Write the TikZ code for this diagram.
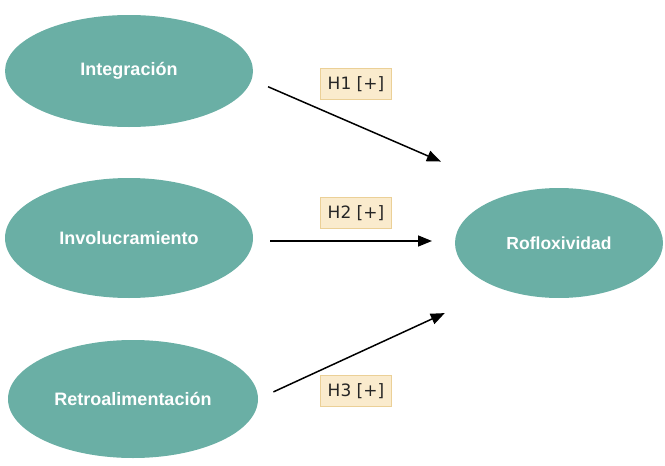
\documentclass[tikz,border=0pt]{standalone}
\usepackage{fontspec}
\setmainfont{Liberation Sans}
\newfontfamily\labfont{DejaVu Sans}
\usetikzlibrary{arrows.meta,shapes.geometric}
\definecolor{tealfill}{HTML}{6AAFA5}
\definecolor{boxfill}{HTML}{FAEBCD}
\definecolor{boxline}{HTML}{EBD097}
\tikzset{
  construct/.style={ellipse, fill=tealfill, draw=none, inner sep=0pt, outer sep=0pt,
    text=white, font=\fontsize{18}{21}\selectfont\bfseries},
  hyplabel/.style={rectangle, fill=boxfill, draw=boxline, line width=1.2pt,
    minimum width=71pt, minimum height=31pt, inner sep=0pt,
    font=\labfont\fontsize{17}{20}\selectfont, text=black!85},
  path/.style={draw=black, line width=1.5pt, -{Triangle[length=14pt,width=11pt]}}
}
\begin{document}
\begin{tikzpicture}[x=1pt,y=-1pt]
\useasboundingbox (0,0) rectangle (665,466);
\node[construct, minimum width=248pt, minimum height=112pt] (int) at (129,71) {Integración};
\node[construct, minimum width=248pt, minimum height=120pt] (inv) at (129,238) {Involucramiento};
\node[construct, minimum width=250pt, minimum height=118pt] (ret) at (133,399) {Retroalimentación};
\node[construct, minimum width=208pt, minimum height=110pt, font=\fontsize{17.5}{20}\selectfont\bfseries] (ref) at (559,243) {Rofloxividad};

\node[hyplabel] (h1) at (356,84) {H1 [+]};
\node[hyplabel] (h2) at (356,213) {H2 [+]};
\node[hyplabel] (h3) at (356,391) {H3 [+]};

\draw[path, shorten <=18pt, shorten >=80pt] (int.-4.6) -- (ref.132.6);
\draw[path, shorten <=17pt, shorten >=23pt] (inv.east |- 0,241) -- (ref.west |- 0,241);
\draw[path, shorten <=17pt, shorten >=60pt] (ret.east) -- (ref.217.1);
\end{tikzpicture}
\end{document}
